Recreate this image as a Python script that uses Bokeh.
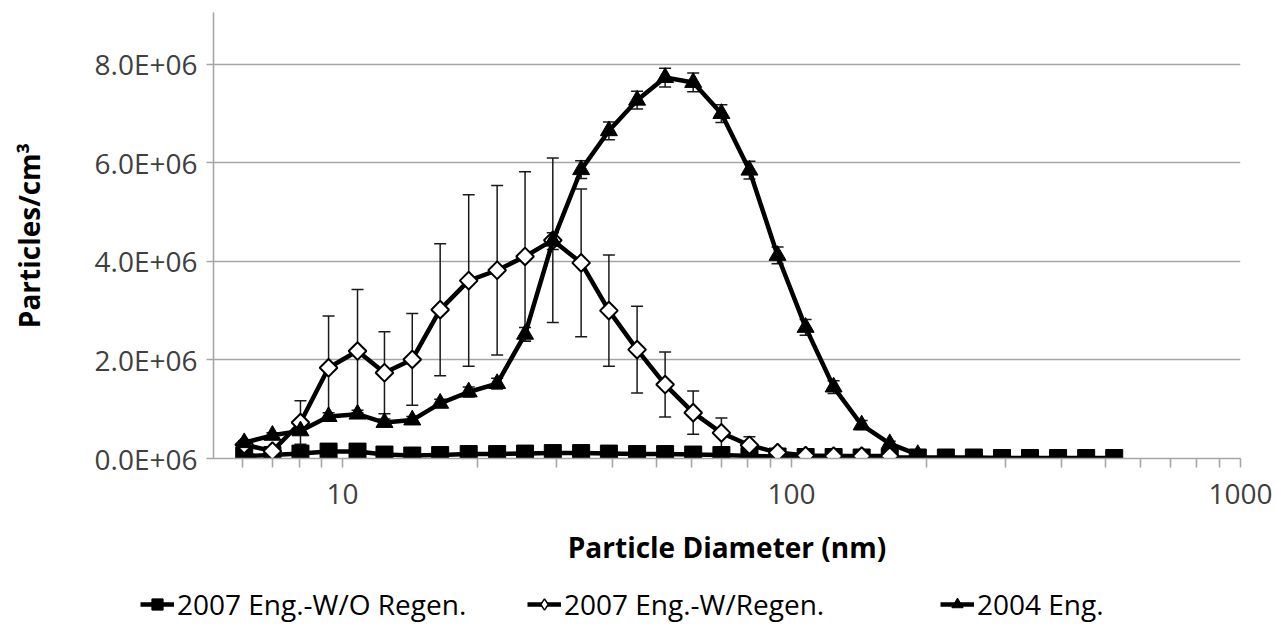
from bokeh.plotting import figure
from bokeh.models import (ColumnDataSource, Range1d, FixedTicker, Whisker, TeeHead,
                          Legend, LegendItem, CustomJSTickFormatter, NumeralTickFormatter)
from bokeh.embed import file_html
from bokeh.resources import INLINE

# ---- data (particle concentration in units of 1E+06 particles/cm3) ----
diameter_nm = [6.04, 6.98, 8.06, 9.31, 10.8, 12.4, 14.3, 16.5, 19.1, 22.1, 25.5, 29.4,
               34.0, 39.2, 45.3, 52.3, 60.4, 69.8, 80.6, 93.1, 107.5, 124.1, 143.3, 165.5,
               191.1, 220.7, 254.8, 294.3, 339.8, 392.4, 453.2, 523.3]

eng2007_no_regen = [0.05, 0.07, 0.10, 0.14, 0.14, 0.08, 0.06, 0.07, 0.09, 0.09, 0.10, 0.11,
                    0.11, 0.10, 0.09, 0.09, 0.08, 0.07, 0.05, 0.04, 0.03, 0.03, 0.02, 0.02,
                    0.02, 0.02, 0.02, 0.01, 0.01, 0.01, 0.01, 0.01]

eng2007_regen = [0.28, 0.15, 0.73, 1.84, 2.18, 1.74, 2.01, 3.02, 3.61, 3.82, 4.10, 4.43,
                 3.97, 3.00, 2.21, 1.50, 0.93, 0.52, 0.27, 0.12, 0.06, 0.05, 0.05, 0.05]
eng2007_regen_err = [0.05, 0.05, 0.44, 1.05, 1.25, 0.83, 0.93, 1.34, 1.74, 1.72, 1.72, 1.67,
                     1.50, 1.13, 0.88, 0.66, 0.44, 0.30, 0.17, 0.08, 0.03, 0.02, 0.02, 0.02]

eng2004 = [0.32, 0.47, 0.56, 0.85, 0.90, 0.73, 0.78, 1.12, 1.35, 1.52, 2.52, 4.41,
           5.86, 6.65, 7.27, 7.73, 7.63, 7.00, 5.85, 4.12, 2.66, 1.45, 0.68, 0.30, 0.08]
eng2004_err = [0.04, 0.05, 0.06, 0.08, 0.08, 0.07, 0.07, 0.08, 0.10, 0.11, 0.14, 0.17,
               0.18, 0.18, 0.18, 0.19, 0.19, 0.18, 0.18, 0.17, 0.16, 0.13, 0.09, 0.05, 0.03]

y_ticks = [0, 2, 4, 6, 8]
x_major_ticks = [10, 100, 1000]
x_minor_ticks = [6, 7, 8, 9, 20, 30, 40, 50, 60, 70, 80, 90,
                 200, 300, 400, 500, 600, 700, 800, 900]

series_names = ["2007 Eng.-W/O Regen.", "2007 Eng.-W/Regen.", "2004 Eng."]

FONT = "Open Sans"
GRID = "#a6a6a6"

W = 1272
H_MAIN = 582
H_LEG = 44

p = figure(width=W, height=H_MAIN, x_axis_type="log",
           x_range=Range1d(5.16, 1000), y_range=Range1d(0, 9.05),
           output_backend="svg", toolbar_location=None,
           min_border_left=213, min_border_right=W - 1240, min_border_top=12,
           min_border_bottom=H_MAIN - 458)
p.outline_line_color = None
p.background_fill_color = "white"

# grid
p.xgrid.visible = False
p.ygrid.ticker = FixedTicker(ticks=y_ticks)
p.ygrid.grid_line_color = GRID
p.ygrid.grid_line_width = 1.6

# y axis
p.yaxis.ticker = FixedTicker(ticks=y_ticks)
p.yaxis.formatter = CustomJSTickFormatter(code="return tick.toFixed(1) + 'E+06';")
p.yaxis.axis_line_color = GRID
p.yaxis.axis_line_width = 1.6
p.yaxis.major_tick_line_color = GRID
p.yaxis.major_tick_line_width = 1.6
p.yaxis.major_tick_out = 7
p.yaxis.major_tick_in = 0
p.yaxis.minor_tick_line_color = None
p.yaxis.major_label_standoff = 9
p.yaxis.major_label_text_font = FONT
p.yaxis.major_label_text_font_size = "28px"
p.yaxis.major_label_text_color = "#404040"
p.yaxis.axis_label = "Particles/cm³"
p.yaxis.axis_label_text_font = FONT
p.yaxis.axis_label_text_font_style = "bold"
p.yaxis.axis_label_text_font_size = "28px"
p.yaxis.axis_label_text_color = "black"
p.yaxis.axis_label_standoff = 44

# x axis
p.xaxis.ticker = FixedTicker(ticks=x_major_ticks, minor_ticks=x_minor_ticks)
p.xaxis.formatter = NumeralTickFormatter(format="0")
p.xaxis.axis_line_color = GRID
p.xaxis.axis_line_width = 1.6
p.xaxis.major_tick_line_color = GRID
p.xaxis.major_tick_line_width = 1.6
p.xaxis.minor_tick_line_color = GRID
p.xaxis.minor_tick_line_width = 1.6
p.xaxis.major_tick_out = 9
p.xaxis.major_tick_in = 0
p.xaxis.minor_tick_out = 9
p.xaxis.minor_tick_in = 0
p.xaxis.major_label_standoff = 16
p.xaxis.major_label_text_font = FONT
p.xaxis.major_label_text_font_size = "28px"
p.xaxis.major_label_text_color = "#404040"
p.xaxis.axis_label = "Particle Diameter (nm)"
p.xaxis.axis_label_text_font = FONT
p.xaxis.axis_label_text_font_style = "bold"
p.xaxis.axis_label_text_font_size = "28px"
p.xaxis.axis_label_text_color = "black"
p.xaxis.axis_label_standoff = 21

# sources
s1 = ColumnDataSource(dict(x=diameter_nm, y=eng2007_no_regen))
n2 = len(eng2007_regen)
s2 = ColumnDataSource(dict(x=diameter_nm[:n2], y=eng2007_regen,
                           lo=[v - e for v, e in zip(eng2007_regen, eng2007_regen_err)],
                           hi=[v + e for v, e in zip(eng2007_regen, eng2007_regen_err)]))
n3 = len(eng2004)
s3 = ColumnDataSource(dict(x=diameter_nm[:n3], y=eng2004,
                           lo=[v - e for v, e in zip(eng2004, eng2004_err)],
                           hi=[v + e for v, e in zip(eng2004, eng2004_err)]))

# error bars (under the lines and markers)
for src in (s2, s3):
    w = Whisker(source=src, base="x", upper="hi", lower="lo", dimension="height",
                line_color="#1a1a1a", line_width=1.5, level="underlay",
                upper_head=TeeHead(size=12, line_color="#1a1a1a", line_width=1.5),
                lower_head=TeeHead(size=12, line_color="#1a1a1a", line_width=1.5))
    p.add_layout(w)

LINE = dict(line_color="black", line_width=4.5, line_join="round")
MARK = [dict(marker="square", size=17, fill_color="black", line_color="black", line_width=1),
        dict(marker="square", angle=0.785398, size=12.5, fill_color="white",
             line_color="black", line_width=2),
        dict(marker="triangle", size=17, fill_color="black", line_color="black", line_width=1)]
LEG_MARK = [dict(marker="square", fill_color="black", line_color="black", line_width=1),
            dict(marker="diamond", fill_color="white", line_color="black", line_width=1.5),
            dict(marker="triangle", fill_color="black", line_color="black", line_width=1)]

for src, mk in zip((s1, s2, s3), MARK):
    p.line("x", "y", source=src, **LINE)
    p.scatter("x", "y", source=src, **mk)

# ---- legend strip below the chart (separate root, full-width frame) ----
leg = figure(width=W, height=H_LEG, x_range=Range1d(0, 1), y_range=Range1d(0, 1),
             output_backend="svg", toolbar_location=None,
             min_border_left=0, min_border_right=0, min_border_top=0, min_border_bottom=0)
leg.axis.visible = False
leg.grid.visible = False
leg.outline_line_color = None

legend_x = [140, 527, 940]
dummy = ColumnDataSource(dict(x=[-5, -4], y=[-5, -5]))
for name, mk, lx in zip(series_names, LEG_MARK, legend_x):
    lr = leg.line("x", "y", source=dummy, **LINE)
    mr = leg.scatter("x", "y", source=dummy, **mk)
    lg = Legend(items=[LegendItem(label=name, renderers=[lr, mr])],
                location=(lx, 3), orientation="horizontal",
                glyph_width=34, glyph_height=28, label_standoff=3, padding=0, margin=0,
                border_line_color=None, background_fill_alpha=0,
                label_text_font=FONT, label_text_font_size="28px", label_text_color="black")
    leg.add_layout(lg, "center")

open("out.html", "w").write(file_html([p, leg], INLINE))
